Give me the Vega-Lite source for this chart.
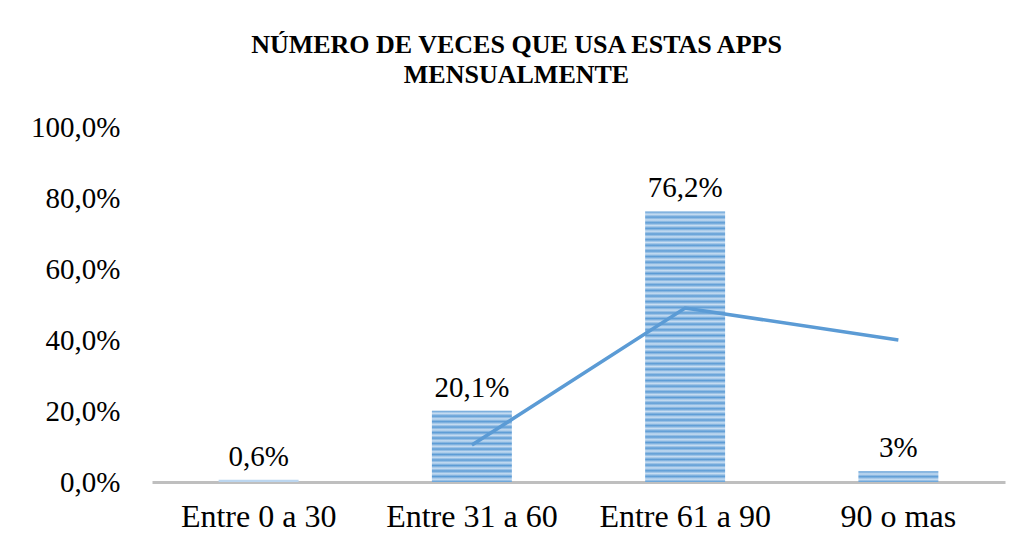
{
  "$schema": "https://vega.github.io/schema/vega-lite/v6.json",
  "width": 853,
  "height": 355,
  "autosize": {"type": "none"},
  "padding": {"left": 152, "top": 127, "right": 20, "bottom": 68},
  "background": "white",
  "title": {
    "text": ["NÚMERO DE VECES QUE USA ESTAS APPS", "MENSUALMENTE"],
    "font": "Liberation Serif",
    "fontWeight": "bold",
    "fontSize": 26,
    "lineHeight": 30,
    "color": "#000000",
    "anchor": "middle",
    "frame": "group",
    "dx": -62,
    "offset": 25
  },
  "config": {
    "view": {"stroke": null},
    "font": "Liberation Serif"
  },
  "data": {
    "values": [
      {"cat": "Entre 0 a 30", "pct": 0.6, "label": "0,6%", "linea": null},
      {"cat": "Entre 31 a 60", "pct": 20.1, "label": "20,1%", "linea": 10.4},
      {"cat": "Entre 61 a 90", "pct": 76.2, "label": "76,2%", "linea": 49},
      {"cat": "90 o mas", "pct": 3, "label": "3%", "linea": 40}
    ]
  },
  "encoding": {
    "x": {
      "field": "cat",
      "type": "nominal",
      "sort": null,
      "scale": {"paddingInner": 0.625, "paddingOuter": 0.3125},
      "axis": {
        "title": null,
        "labelAngle": 0,
        "labelFont": "Liberation Serif",
        "labelFontSize": 32,
        "labelColor": "#000000",
        "labelPadding": 19,
        "ticks": false,
        "domainColor": "#bfbfbf",
        "domainWidth": 3
      }
    }
  },
  "layer": [
    {
      "mark": {"type": "bar"},
      "encoding": {
        "y": {
          "field": "pct",
          "type": "quantitative",
          "scale": {"domain": [0, 100], "nice": false},
          "axis": {
            "title": null,
            "values": [0, 20, 40, 60, 80, 100],
            "labelExpr": "replace(format(datum.value, '.1f'), '.', ',') + '%'",
            "labelFont": "Liberation Serif",
            "labelFontSize": 29,
            "labelColor": "#000000",
            "labelPadding": 32,
            "ticks": false,
            "domain": false,
            "grid": false
          }
        },
        "color": {
          "condition": [
            {
              "test": "datum.cat === 'Entre 61 a 90'",
              "value": {
                "gradient": "linear", "x1": 0, "y1": 0, "x2": 0, "y2": 1,
                "stops": [
                  {"offset": 0, "color": "#5b9bd5"}, {"offset": 0.0104, "color": "#c9def2"},
                  {"offset": 0.0208, "color": "#5b9bd5"}, {"offset": 0.0313, "color": "#c9def2"},
                  {"offset": 0.0417, "color": "#5b9bd5"}, {"offset": 0.0521, "color": "#c9def2"},
                  {"offset": 0.0625, "color": "#5b9bd5"}, {"offset": 0.0729, "color": "#c9def2"},
                  {"offset": 0.0833, "color": "#5b9bd5"}, {"offset": 0.0938, "color": "#c9def2"},
                  {"offset": 0.1042, "color": "#5b9bd5"}, {"offset": 0.1146, "color": "#c9def2"},
                  {"offset": 0.125, "color": "#5b9bd5"}, {"offset": 0.1354, "color": "#c9def2"},
                  {"offset": 0.1458, "color": "#5b9bd5"}, {"offset": 0.1563, "color": "#c9def2"},
                  {"offset": 0.1667, "color": "#5b9bd5"}, {"offset": 0.1771, "color": "#c9def2"},
                  {"offset": 0.1875, "color": "#5b9bd5"}, {"offset": 0.1979, "color": "#c9def2"},
                  {"offset": 0.2083, "color": "#5b9bd5"}, {"offset": 0.2188, "color": "#c9def2"},
                  {"offset": 0.2292, "color": "#5b9bd5"}, {"offset": 0.2396, "color": "#c9def2"},
                  {"offset": 0.25, "color": "#5b9bd5"}, {"offset": 0.2604, "color": "#c9def2"},
                  {"offset": 0.2708, "color": "#5b9bd5"}, {"offset": 0.2813, "color": "#c9def2"},
                  {"offset": 0.2917, "color": "#5b9bd5"}, {"offset": 0.3021, "color": "#c9def2"},
                  {"offset": 0.3125, "color": "#5b9bd5"}, {"offset": 0.3229, "color": "#c9def2"},
                  {"offset": 0.3333, "color": "#5b9bd5"}, {"offset": 0.3438, "color": "#c9def2"},
                  {"offset": 0.3542, "color": "#5b9bd5"}, {"offset": 0.3646, "color": "#c9def2"},
                  {"offset": 0.375, "color": "#5b9bd5"}, {"offset": 0.3854, "color": "#c9def2"},
                  {"offset": 0.3958, "color": "#5b9bd5"}, {"offset": 0.4063, "color": "#c9def2"},
                  {"offset": 0.4167, "color": "#5b9bd5"}, {"offset": 0.4271, "color": "#c9def2"},
                  {"offset": 0.4375, "color": "#5b9bd5"}, {"offset": 0.4479, "color": "#c9def2"},
                  {"offset": 0.4583, "color": "#5b9bd5"}, {"offset": 0.4688, "color": "#c9def2"},
                  {"offset": 0.4792, "color": "#5b9bd5"}, {"offset": 0.4896, "color": "#c9def2"},
                  {"offset": 0.5, "color": "#5b9bd5"}, {"offset": 0.5104, "color": "#c9def2"},
                  {"offset": 0.5208, "color": "#5b9bd5"}, {"offset": 0.5313, "color": "#c9def2"},
                  {"offset": 0.5417, "color": "#5b9bd5"}, {"offset": 0.5521, "color": "#c9def2"},
                  {"offset": 0.5625, "color": "#5b9bd5"}, {"offset": 0.5729, "color": "#c9def2"},
                  {"offset": 0.5833, "color": "#5b9bd5"}, {"offset": 0.5938, "color": "#c9def2"},
                  {"offset": 0.6042, "color": "#5b9bd5"}, {"offset": 0.6146, "color": "#c9def2"},
                  {"offset": 0.625, "color": "#5b9bd5"}, {"offset": 0.6354, "color": "#c9def2"},
                  {"offset": 0.6458, "color": "#5b9bd5"}, {"offset": 0.6563, "color": "#c9def2"},
                  {"offset": 0.6667, "color": "#5b9bd5"}, {"offset": 0.6771, "color": "#c9def2"},
                  {"offset": 0.6875, "color": "#5b9bd5"}, {"offset": 0.6979, "color": "#c9def2"},
                  {"offset": 0.7083, "color": "#5b9bd5"}, {"offset": 0.7188, "color": "#c9def2"},
                  {"offset": 0.7292, "color": "#5b9bd5"}, {"offset": 0.7396, "color": "#c9def2"},
                  {"offset": 0.75, "color": "#5b9bd5"}, {"offset": 0.7604, "color": "#c9def2"},
                  {"offset": 0.7708, "color": "#5b9bd5"}, {"offset": 0.7813, "color": "#c9def2"},
                  {"offset": 0.7917, "color": "#5b9bd5"}, {"offset": 0.8021, "color": "#c9def2"},
                  {"offset": 0.8125, "color": "#5b9bd5"}, {"offset": 0.8229, "color": "#c9def2"},
                  {"offset": 0.8333, "color": "#5b9bd5"}, {"offset": 0.8438, "color": "#c9def2"},
                  {"offset": 0.8542, "color": "#5b9bd5"}, {"offset": 0.8646, "color": "#c9def2"},
                  {"offset": 0.875, "color": "#5b9bd5"}, {"offset": 0.8854, "color": "#c9def2"},
                  {"offset": 0.8958, "color": "#5b9bd5"}, {"offset": 0.9063, "color": "#c9def2"},
                  {"offset": 0.9167, "color": "#5b9bd5"}, {"offset": 0.9271, "color": "#c9def2"},
                  {"offset": 0.9375, "color": "#5b9bd5"}, {"offset": 0.9479, "color": "#c9def2"},
                  {"offset": 0.9583, "color": "#5b9bd5"}, {"offset": 0.9688, "color": "#c9def2"},
                  {"offset": 0.9792, "color": "#5b9bd5"}, {"offset": 0.9896, "color": "#c9def2"},
                  {"offset": 1, "color": "#5b9bd5"}
                ]
              }
            },
            {
              "test": "datum.cat === 'Entre 31 a 60'",
              "value": {
                "gradient": "linear", "x1": 0, "y1": 0, "x2": 0, "y2": 1,
                "stops": [
                  {"offset": 0, "color": "#5b9bd5"}, {"offset": 0.0385, "color": "#c9def2"},
                  {"offset": 0.0769, "color": "#5b9bd5"}, {"offset": 0.1154, "color": "#c9def2"},
                  {"offset": 0.1538, "color": "#5b9bd5"}, {"offset": 0.1923, "color": "#c9def2"},
                  {"offset": 0.2308, "color": "#5b9bd5"}, {"offset": 0.2692, "color": "#c9def2"},
                  {"offset": 0.3077, "color": "#5b9bd5"}, {"offset": 0.3462, "color": "#c9def2"},
                  {"offset": 0.3846, "color": "#5b9bd5"}, {"offset": 0.4231, "color": "#c9def2"},
                  {"offset": 0.4615, "color": "#5b9bd5"}, {"offset": 0.5, "color": "#c9def2"},
                  {"offset": 0.5385, "color": "#5b9bd5"}, {"offset": 0.5769, "color": "#c9def2"},
                  {"offset": 0.6154, "color": "#5b9bd5"}, {"offset": 0.6538, "color": "#c9def2"},
                  {"offset": 0.6923, "color": "#5b9bd5"}, {"offset": 0.7308, "color": "#c9def2"},
                  {"offset": 0.7692, "color": "#5b9bd5"}, {"offset": 0.8077, "color": "#c9def2"},
                  {"offset": 0.8462, "color": "#5b9bd5"}, {"offset": 0.8846, "color": "#c9def2"},
                  {"offset": 0.9231, "color": "#5b9bd5"}, {"offset": 0.9615, "color": "#c9def2"},
                  {"offset": 1, "color": "#5b9bd5"}
                ]
              }
            },
            {
              "test": "datum.cat === '90 o mas'",
              "value": {
                "gradient": "linear", "x1": 0, "y1": 0, "x2": 0, "y2": 1,
                "stops": [
                  {"offset": 0, "color": "#5b9bd5"}, {"offset": 0.25, "color": "#c9def2"},
                  {"offset": 0.5, "color": "#5b9bd5"}, {"offset": 0.75, "color": "#c9def2"},
                  {"offset": 1, "color": "#5b9bd5"}
                ]
              }
            }
          ],
          "value": "#bcd6ef"
        }
      }
    },
    {
      "mark": {"type": "text", "font": "Liberation Serif", "fontSize": 29, "color": "#000000", "baseline": "bottom", "dy": -8},
      "encoding": {
        "y": {"field": "pct", "type": "quantitative"},
        "text": {"field": "label", "type": "nominal"}
      }
    },
    {
      "mark": {"type": "line", "color": "#5b9bd5", "strokeWidth": 3.5},
      "encoding": {
        "y": {"field": "linea", "type": "quantitative"}
      }
    }
  ]
}
